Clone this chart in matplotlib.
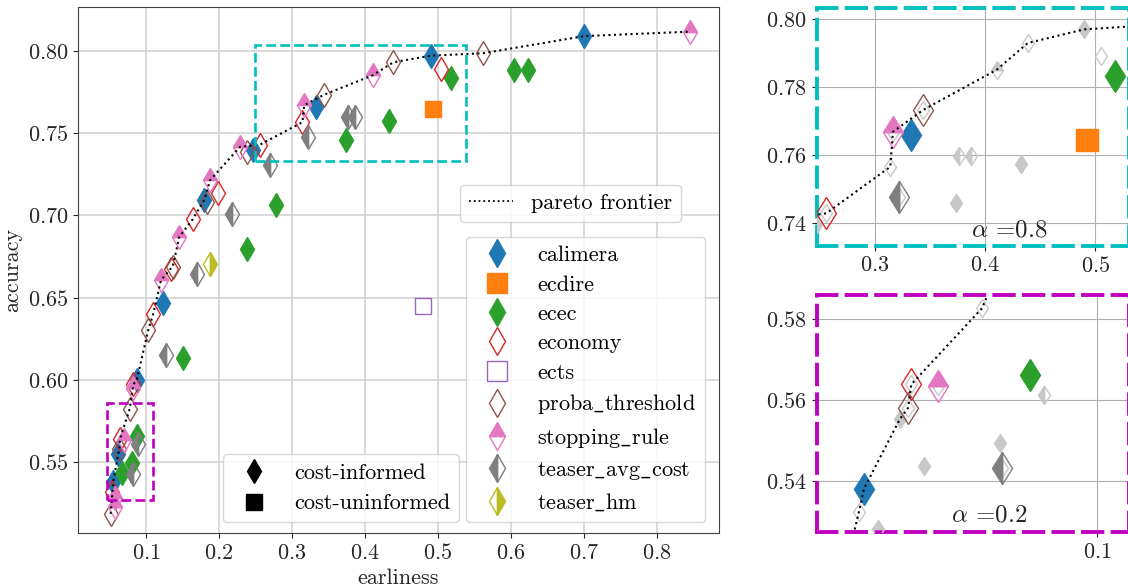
import numpy as np
import matplotlib
matplotlib.use('Agg')
import matplotlib.pyplot as plt
from matplotlib.lines import Line2D
from matplotlib.patches import Rectangle

plt.rcParams['font.family'] = 'serif'
plt.rcParams['font.serif'] = ['cmr10']
plt.rcParams['mathtext.fontset'] = 'cm'
plt.rcParams['axes.formatter.use_mathtext'] = True
plt.rcParams['axes.unicode_minus'] = False

# ==========================================
# Data
# ==========================================
methods = ['calimera', 'ecdire', 'ecec', 'economy', 'ects',
           'proba_threshold', 'stopping_rule', 'teaser_avg_cost', 'teaser_hm']
colors = ['tab:blue', 'tab:orange', 'tab:green', 'tab:red', 'tab:purple',
          'tab:brown', 'tab:pink', 'tab:gray', 'tab:olive']
markers = ['d', 's', 'd', 'd', 's', 'd', 'd', 'd', 'd']
fills = ['full', 'full', 'full', 'none', 'none', 'none', 'top', 'left', 'right']
cost_informed = [True, False, True, True, False, True, True, True, True]

calimera_e = [0.0551, 0.0620, 0.0872, 0.1237, 0.180, 0.247, 0.3331, 0.490, 0.7004]
calimera_a = [0.5380, 0.5552, 0.5997, 0.6467, 0.7095, 0.7396, 0.7660, 0.7970, 0.8089]
calimera_alpha = [0.2, None, None, None, None, None, 0.8, None, None]

ecdire_e = [0.4927]
ecdire_a = [0.7646]
ecdire_alpha = [None]

ecec_e = [0.0667, 0.0813, 0.0870, 0.1511, 0.238, 0.278, 0.3734, 0.4323, 0.5178, 0.604, 0.6228]
ecec_a = [0.5437, 0.5494, 0.5662, 0.6133, 0.6798, 0.7061, 0.7458, 0.7575, 0.7834, 0.7883, 0.7883]
ecec_alpha = [None, None, 0.2, None, None, None, None, None, 0.8, None, None]

economy_e = [0.0541, 0.0642, 0.0826, 0.110, 0.1338, 0.164, 0.199, 0.2561, 0.3143, 0.5048]
economy_a = [0.5321, 0.5638, 0.5973, 0.6403, 0.6676, 0.6976, 0.7133, 0.7429, 0.7566, 0.7891]
economy_alpha = [None, 0.2, None, None, None, None, None, 0.8, None, None]

ects_e = [0.479]
ects_a = [0.6447]
ects_alpha = [None]

proba_e = [0.0516, 0.0636, 0.0778, 0.1032, 0.1365, 0.183, 0.238, 0.344, 0.439, 0.562]
proba_a = [0.5186, 0.5580, 0.5826, 0.6305, 0.6686, 0.7082, 0.7386, 0.7733, 0.7930, 0.7985]
proba_alpha = [None, 0.2, None, None, None, None, None, 0.8, None, None]

stopping_e = [0.0575, 0.0578, 0.0693, 0.0826, 0.1205, 0.1456, 0.1877, 0.2288, 0.3167, 0.4106, 0.8452]
stopping_a = [0.5226, 0.5280, 0.5634, 0.5953, 0.6605, 0.6869, 0.7213, 0.7416, 0.7669, 0.7851, 0.8116]
stopping_alpha = [None, None, 0.2, None, None, None, None, None, 0.8, None, None]

teaser_avg_e = [0.0816, 0.0897, 0.127, 0.1694, 0.2174, 0.270, 0.3218, 0.3764, 0.387]
teaser_avg_a = [0.5430, 0.5612, 0.6149, 0.6642, 0.7010, 0.7305, 0.7478, 0.7598, 0.7598]
teaser_avg_alpha = [0.2, None, None, None, None, None, 0.8, None, None]

teaser_hm_e = [0.1877]
teaser_hm_a = [0.6707]
teaser_hm_alpha = [None]

earliness = [calimera_e, ecdire_e, ecec_e, economy_e, ects_e,
             proba_e, stopping_e, teaser_avg_e, teaser_hm_e]
accuracy = [calimera_a, ecdire_a, ecec_a, economy_a, ects_a,
            proba_a, stopping_a, teaser_avg_a, teaser_hm_a]
alphas = [calimera_alpha, ecdire_alpha, ecec_alpha, economy_alpha, ects_alpha,
          proba_alpha, stopping_alpha, teaser_avg_alpha, teaser_hm_alpha]

# ==========================================
# Pareto frontier (min earliness, max accuracy)
# ==========================================
all_e = np.concatenate([np.array(e) for e in earliness])
all_a = np.concatenate([np.array(a) for a in accuracy])
order = np.lexsort((-all_a, all_e))
pareto_e, pareto_a = [], []
best = -np.inf
for k in order:
    if all_a[k] > best:
        best = all_a[k]
        pareto_e.append(all_e[k])
        pareto_a.append(all_a[k])

# ==========================================
# Figure
# ==========================================
W, H = 1128, 588
fig = plt.figure(figsize=(W / 100, H / 100), dpi=100)


def px_axes(left, top, right, bottom):
    return fig.add_axes([left / W, 1 - bottom / H, (right - left) / W, (bottom - top) / H])


ax = px_axes(78, 7.3, 719, 533.3)
ax1 = px_axes(816.7, 8.3, 1129, 246)
ax2 = px_axes(816.7, 295, 1129, 532.3)

TEXT_COL = '0.15'

# main panel
for i, m in enumerate(methods):
    ax.plot(earliness[i], accuracy[i], ls='none', marker=markers[i], ms=12,
            color=colors[i], fillstyle=fills[i], mew=1.0, zorder=3)
ax.plot(pareto_e, pareto_a, ls=':', color='k', lw=1.5, zorder=4)

ax.set_xlim(0.00685, 0.885)
ax.set_ylim(0.5068, 0.8264)
ax.set_xticks([0.1, 0.2, 0.3, 0.4, 0.5, 0.6, 0.7, 0.8])
ax.set_yticks([0.55, 0.60, 0.65, 0.70, 0.75, 0.80])
ax.grid(True, color='#d0d0d0', lw=1.1)
ax.set_axisbelow(True)
ax.set_xlabel('earliness', fontsize=16, color=TEXT_COL)
ax.set_ylabel('accuracy', fontsize=16, color=TEXT_COL)
ax.tick_params(labelsize=16, colors=TEXT_COL)
for s in ax.spines.values():
    s.set_color('0.25')

ax.add_patch(Rectangle((0.25, 0.7333), 0.288, 0.070, fill=False,
                       ec='c', ls='--', lw=1.9, zorder=5))
ax.add_patch(Rectangle((0.046, 0.527), 0.063, 0.059, fill=False,
                       ec='m', ls='--', lw=1.9, zorder=5))

# legends
pareto_leg = ax.legend([Line2D([], [], ls=':', color='k', lw=1.3)], ['pareto frontier'],
                       loc='lower right', bbox_to_anchor=(0.9407, 0.592),
                       borderaxespad=0, fontsize=16)
ax.add_artist(pareto_leg)

# cmr10 has no underscore glyph, so take it from math mode
method_labels = [m.replace('_', r'$\_$') for m in methods]
method_handles = [Line2D([], [], ls='none', marker=markers[i], ms=14, color=colors[i],
                         fillstyle=fills[i], mew=1.0) for i in range(len(methods))]
method_leg = ax.legend(method_handles, method_labels, loc='lower right', fontsize=16,
                       bbox_to_anchor=(0.9785, 0.021), borderaxespad=0,
                       labelspacing=0.44)
ax.add_artist(method_leg)

cost_handles = [Line2D([], [], ls='none', marker='d', ms=12, color='k'),
                Line2D([], [], ls='none', marker='s', ms=12, color='k')]
ax.legend(cost_handles, ['cost-informed', 'cost-uninformed'], loc='lower left',
          bbox_to_anchor=(0.2257, 0.021), borderaxespad=0, fontsize=16)

# inset panels
LIGHT = '#c8c8c8'


def draw_inset(axi, alpha_val, frame_col, label, lx, ly):
    for i, m in enumerate(methods):
        axi.plot(earliness[i], accuracy[i], ls='none', marker=markers[i], ms=9.5,
                 color=LIGHT, fillstyle=fills[i], mew=1.0, zorder=3)
    for i, m in enumerate(methods):
        sel = [k for k, a in enumerate(alphas[i]) if (a == alpha_val) or not cost_informed[i]]
        if not sel:
            continue
        axi.plot([earliness[i][k] for k in sel], [accuracy[i][k] for k in sel], ls='none',
                 marker=markers[i], ms=16.5, color=colors[i], fillstyle=fills[i],
                 mew=1.0, zorder=4)
    axi.plot(pareto_e, pareto_a, ls=':', color='k', lw=1.5, zorder=5)
    axi.grid(True, color='#b0b0b0', lw=0.8)
    axi.set_axisbelow(True)
    axi.tick_params(labelsize=16, colors=TEXT_COL)
    for s in axi.spines.values():
        s.set_color(frame_col)
        s.set_linestyle((0, (5, 2.6)))
        s.set_linewidth(2.8)
    axi.text(lx, ly, label, transform=axi.transAxes, ha='center', va='center',
             fontsize=18, color=TEXT_COL)


draw_inset(ax1, 0.8, 'c', r'$\alpha$ =0.8', 0.618, 0.067)
ax1.set_xlim(0.2476, 0.5306)
ax1.set_ylim(0.7333, 0.8032)
ax1.set_xticks([0.3, 0.4, 0.5])
ax1.set_yticks([0.74, 0.76, 0.78, 0.80])

draw_inset(ax2, 0.2, 'm', r'$\alpha$ =0.2', 0.551, 0.073)
ax2.set_xlim(0.046, 0.1061)
ax2.set_ylim(0.5272, 0.5859)
ax2.set_xticks([0.1])
ax2.set_yticks([0.54, 0.56, 0.58])

fig.savefig('out.png', dpi=100)
